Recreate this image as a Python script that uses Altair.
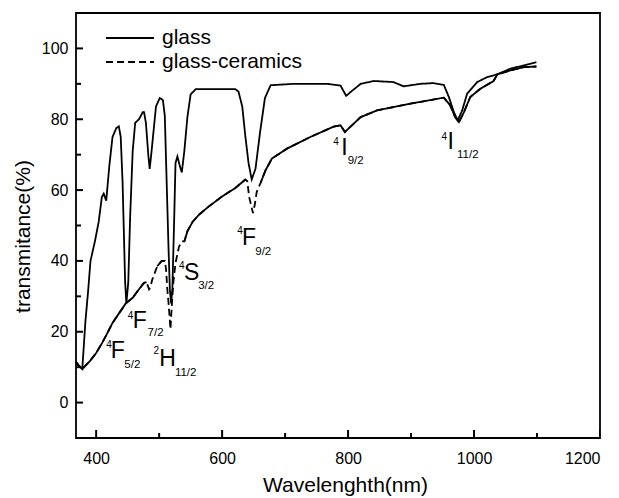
import altair as alt
import pandas as pd

FONT = "Liberation Sans"

# ---- data ----
glass_wl = [368, 372, 378, 383, 387, 391, 398, 404, 409, 412, 416, 421, 426, 432, 436, 439, 442, 446, 448, 451,
            454, 458, 462, 468, 474, 476, 479, 483, 485, 488, 495, 501, 506, 509, 512, 515, 517, 519, 521, 524,
            526, 529, 533, 536, 540, 545, 550, 558, 580, 621, 626, 632, 637, 642, 647, 653, 660, 668, 677, 714,
            767, 788, 797, 804, 820, 841, 872, 888, 915, 935, 952, 960, 968, 974, 981, 989, 1005, 1021, 1037,
            1058, 1079, 1099]
glass_t = [11.5, 10.5, 9.5, 23, 31, 40, 45.5, 51, 58, 59, 57, 67, 75, 77.5, 78, 75, 62, 34, 28, 34,
           52.6, 71, 79, 80, 82, 82, 79, 69.5, 66, 71, 83.6, 86, 85.4, 81, 62, 43, 32, 28, 32, 52.6,
           67.6, 69.5, 66.7, 65, 71, 80.8, 87, 88.5, 88.5, 88.5, 87.8, 83.6, 75, 67.6, 63, 66, 76, 86, 89.6, 90,
           90, 89.5, 86.6, 87.7, 90, 90.8, 90.5, 89.3, 90, 90.2, 89.7, 86.3, 82, 79.7, 82.4, 87.2, 90.5, 91.9,
           92.7, 94.3, 95.2, 96.1]

gc_wl = [368, 372, 378, 390, 400, 410, 418, 426, 437, 447, 458, 468, 476, 480, 484, 486, 489, 497, 504, 509,
         511, 513, 515, 518, 520, 522.5, 526, 531.5, 536, 540, 545, 553, 563, 579, 600, 621, 637, 640, 643, 649,
         652, 655, 661, 669, 679, 703, 740, 777, 788, 795, 801, 820, 846, 899, 952, 962, 970, 976, 984, 994,
         1010, 1031, 1037, 1058, 1079, 1099]
gc_t = [11.5, 10.5, 9.5, 11.7, 14, 17, 19.7, 22.5, 25.4, 28, 29.6, 32, 33.8, 34, 32, 32.5, 34.7, 38.5, 40, 40,
        37.6, 32, 28, 20.7, 27, 33.8, 39.4, 44, 45.5, 45.5, 48.4, 51, 53, 55.4, 58.2, 60.6, 63, 62.5, 58, 53.5,
        56, 59.5, 62, 65.6, 68.9, 71.7, 75, 77.9, 78.3, 76.4, 77.4, 80.6, 82.5, 84.4, 86.1, 84, 80.6, 79.2, 82, 86.3,
        88.6, 90.8, 92.7, 93.8, 94.7, 94.9]

series_names = ["glass", "glass-ceramics"]
# wavelength spans where the glass-ceramics trace shows as dashed
dashed_ranges = [(481, 491), (510, 537), (638, 658)]

x_major = [400, 600, 800, 1000, 1200]
x_minor = [500, 700, 900, 1100]
y_major = [0, 20, 40, 60, 80, 100]
y_minor = [10, 30, 50, 70, 90]

ann_sup = ["4", "4", "2", "4", "4", "4", "4"]
ann_main = ["F", "F", "H", "S", "F", "I", "I"]
ann_sub = ["5/2", "7/2", "11/2", "3/2", "9/2", "9/2", "11/2"]
sup_x = [424.7, 458.9, 500, 540.5, 633, 785.1, 957]
sup_y = [16.3, 24.4, 14.6, 38.5, 48.4, 73.5, 75]
main_x = [423, 458, 500, 539.5, 631.5, 789, 958]
main_y = [14.6, 23.1, 12.2, 36.5, 46.6, 72, 73.5]
sub_x = [444.7, 481.6, 525, 562, 652.6, 799.4, 973]
sub_y = [10.6, 19.6, 8.3, 33, 42.5, 68.2, 69.9]

X_DOMAIN = [368, 1200]
Y_DOMAIN = [-10, 110]
W, H = 524, 425

# ---- tables ----
df = pd.concat([
    pd.DataFrame({"wl": glass_wl, "t": glass_t, "series": series_names[0]}),
    pd.DataFrame({"wl": gc_wl, "t": gc_t, "series": series_names[1]}),
], ignore_index=True)

gc = pd.DataFrame({"wl": gc_wl, "t": gc_t})
in_dash = gc["wl"].apply(lambda w: any(a < w < b for a, b in dashed_ranges))
seg_id = (in_dash != in_dash.shift()).cumsum()
solid = gc[~in_dash].assign(seg=seg_id[~in_dash])

sup_df = pd.DataFrame({"x": sup_x, "y": sup_y, "txt": ann_sup})
main_df = pd.DataFrame({"x": main_x, "y": main_y, "txt": ann_main})
sub_df = pd.DataFrame({"x": sub_x, "y": sub_y, "txt": ann_sub})

xs = alt.Scale(domain=X_DOMAIN, nice=False, zero=False)
ys = alt.Scale(domain=Y_DOMAIN, nice=False, zero=False)

common = dict(grid=False, domain=False, ticks=False,
              labelFont=FONT, labelFontSize=16, labelColor="black",
              titleFont=FONT, titleFontSize=21, titleFontWeight="normal", titleColor="black")

x_axis = alt.Axis(values=x_major, orient="bottom", format="d", title="Wavelenghth(nm)",
                  labelPadding=12,
                  titleX=269, titleY=47, titleBaseline="middle", titleAlign="center", **common)
y_axis = alt.Axis(values=y_major, orient="left", format="d", title="transmitance(%)",
                  labelPadding=8,
                  titleX=-53, titleY=223, titleBaseline="middle", titleAlign="center", **common)

lines = alt.Chart(df).mark_line(color="black", strokeWidth=1.8).encode(
    x=alt.X("wl:Q", scale=xs, axis=x_axis),
    y=alt.Y("t:Q", scale=ys, axis=y_axis),
    strokeDash=alt.StrokeDash(
        "series:N",
        scale=alt.Scale(domain=series_names, range=[[1, 0], [7, 4]]),
        legend=alt.Legend(
            title=None, orient="none", legendX=29, legendY=13, padding=0,
            symbolType="stroke", symbolSize=2304, symbolStrokeWidth=2,
            symbolStrokeColor="black", clipHeight=24, rowPadding=0,
            labelFontSize=21, labelFont=FONT, labelColor="black", labelOffset=7,
        ),
    ),
)

solid_layer = alt.Chart(solid).mark_line(color="black", strokeWidth=1.8).encode(
    x=alt.X("wl:Q", scale=xs),
    y=alt.Y("t:Q", scale=ys),
    detail="seg:N",
)

# inward ticks: tick marks centred on the frame edge, outer half clipped away
def xticks(vals, length):
    d = pd.DataFrame({"v": vals, "edge": Y_DOMAIN[0]})
    return alt.Chart(d).mark_tick(orient="vertical", size=2 * length, thickness=2,
                                  color="black", opacity=1, clip=True).encode(
        x=alt.X("v:Q", scale=xs), y=alt.Y("edge:Q", scale=ys))

def yticks(vals, length):
    d = pd.DataFrame({"v": vals, "edge": X_DOMAIN[0]})
    return alt.Chart(d).mark_tick(orient="horizontal", size=2 * length, thickness=2,
                                  color="black", opacity=1, clip=True).encode(
        y=alt.Y("v:Q", scale=ys), x=alt.X("edge:Q", scale=xs))

def text_layer(d, **kw):
    return alt.Chart(d).mark_text(baseline="middle", font=FONT, color="black", **kw).encode(
        x=alt.X("x:Q", scale=xs),
        y=alt.Y("y:Q", scale=ys),
        text="txt:N",
    )

sup_layer = text_layer(sup_df, align="right", fontSize=10)
main_layer = text_layer(main_df, align="left", fontSize=23)
sub_layer = text_layer(sub_df, align="left", fontSize=11.5)

chart = alt.layer(
    lines, solid_layer,
    xticks(x_major, 8), xticks(x_minor, 5), yticks(y_major, 7), yticks(y_minor, 5),
    sup_layer, main_layer, sub_layer,
).properties(
    width=W, height=H,
    autosize=alt.AutoSizeParams(type="none"),
    padding={"left": 76, "top": 13, "right": 19, "bottom": 60},
    background="white",
).configure_view(stroke="black", strokeWidth=1.8)

chart.save("out.html", embed_options={"renderer": "svg", "actions": False})
